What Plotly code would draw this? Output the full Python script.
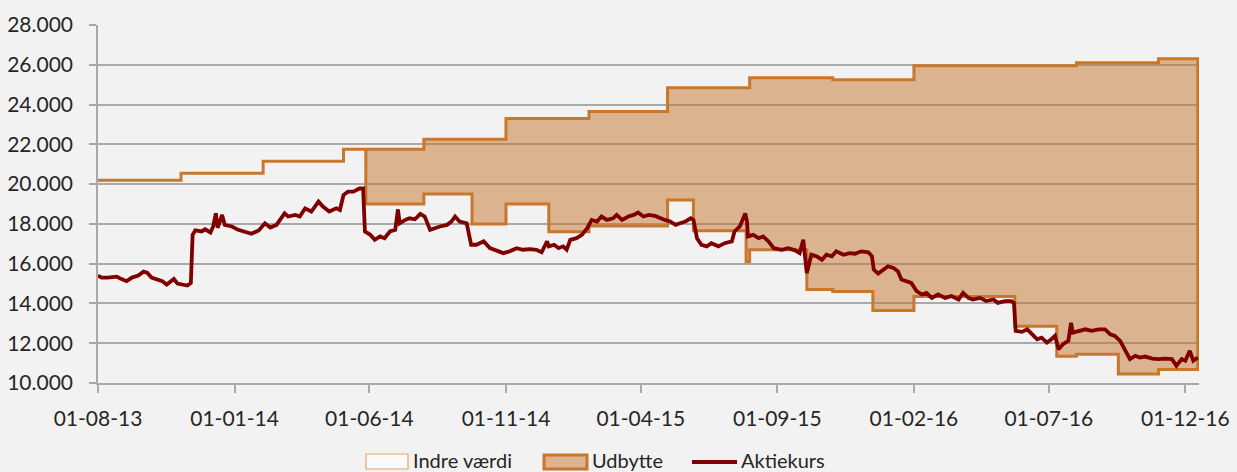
import plotly.graph_objects as go

# ---------------- data ----------------
# Step series: dates where the level changes (last entry = end of series)
step_dates = [
    "2013-08-01", "2013-11-02", "2014-02-02", "2014-05-03", "2014-05-28",
    "2014-08-01", "2014-09-24", "2014-11-01", "2014-12-19", "2015-02-02",
    "2015-05-01", "2015-05-30", "2015-07-28", "2015-08-01", "2015-10-04",
    "2015-11-02", "2015-12-17", "2016-02-01", "2016-05-24", "2016-07-10",
    "2016-08-01", "2016-09-17", "2016-11-01", "2016-12-15",
]
indre_vaerdi = [
    20200, 20550, 21150, 21750, 19000,
    19500, 18000, 19000, 17600, 17900,
    19200, 17650, 16100, 16700, 14700,
    14600, 13650, 14350, 12850, 11350,
    11450, 10450, 10680, 10680,
]
udbytte = [
    0, 0, 0, 0, 2750,
    2750, 4250, 4300, 5700, 5750,
    5650, 7200, 8750, 8650, 10650,
    10650, 11600, 11600, 13100, 14600,
    14650, 15650, 15620, 15620,
]

kurs_dates = [
    "2013-08-01", "2013-08-05", "2013-08-12", "2013-08-22", "2013-08-26", "2013-09-02",
    "2013-09-08", "2013-09-15", "2013-09-21", "2013-09-25", "2013-09-30", "2013-10-06",
    "2013-10-12", "2013-10-17", "2013-10-25", "2013-10-29", "2013-11-04", "2013-11-09",
    "2013-11-13", "2013-11-15", "2013-11-18", "2013-11-25", "2013-11-29", "2013-12-05",
    "2013-12-08", "2013-12-11", "2013-12-13", "2013-12-18", "2013-12-21", "2013-12-29",
    "2014-01-05", "2014-01-13", "2014-01-20", "2014-01-28", "2014-02-04", "2014-02-10",
    "2014-02-17", "2014-02-26", "2014-03-02", "2014-03-10", "2014-03-15", "2014-03-21",
    "2014-03-28", "2014-04-05", "2014-04-10", "2014-04-17", "2014-04-25", "2014-04-29",
    "2014-05-03", "2014-05-08", "2014-05-14", "2014-05-21", "2014-05-25", "2014-05-27",
    "2014-06-02", "2014-06-07", "2014-06-13", "2014-06-18", "2014-06-24", "2014-06-30",
    "2014-07-03", "2014-07-05", "2014-07-11", "2014-07-16", "2014-07-22", "2014-07-28",
    "2014-08-02", "2014-08-08", "2014-08-13", "2014-08-19", "2014-08-27", "2014-09-01",
    "2014-09-05", "2014-09-10", "2014-09-18", "2014-09-23", "2014-09-29", "2014-10-07",
    "2014-10-14", "2014-10-22", "2014-10-29", "2014-11-05", "2014-11-13", "2014-11-20",
    "2014-11-28", "2014-12-05", "2014-12-11", "2014-12-17", "2014-12-19", "2014-12-25",
    "2014-12-30", "2015-01-04", "2015-01-08", "2015-01-12", "2015-01-19", "2015-01-25",
    "2015-01-31", "2015-02-05", "2015-02-11", "2015-02-16", "2015-02-22", "2015-03-01",
    "2015-03-05", "2015-03-11", "2015-03-18", "2015-03-24", "2015-03-29", "2015-04-04",
    "2015-04-10", "2015-04-17", "2015-04-23", "2015-04-28", "2015-05-04", "2015-05-10",
    "2015-05-15", "2015-05-21", "2015-05-27", "2015-05-30", "2015-06-03", "2015-06-08",
    "2015-06-14", "2015-06-19", "2015-06-27", "2015-07-04", "2015-07-12", "2015-07-15",
    "2015-07-21", "2015-07-27", "2015-07-29", "2015-07-30", "2015-08-05", "2015-08-11",
    "2015-08-16", "2015-08-22", "2015-08-28", "2015-09-06", "2015-09-13", "2015-09-21",
    "2015-09-26", "2015-09-30", "2015-10-02", "2015-10-04", "2015-10-06", "2015-10-09",
    "2015-10-15", "2015-10-21", "2015-10-26", "2015-11-01", "2015-11-06", "2015-11-14",
    "2015-11-21", "2015-11-27", "2015-12-04", "2015-12-12", "2015-12-16", "2015-12-18",
    "2015-12-23", "2015-12-29", "2016-01-03", "2016-01-09", "2016-01-14", "2016-01-18",
    "2016-01-24", "2016-01-29", "2016-02-04", "2016-02-10", "2016-02-15", "2016-02-21",
    "2016-02-28", "2016-03-07", "2016-03-14", "2016-03-22", "2016-03-27", "2016-04-02",
    "2016-04-07", "2016-04-15", "2016-04-22", "2016-04-30", "2016-05-05", "2016-05-13",
    "2016-05-20", "2016-05-23", "2016-05-25", "2016-06-01", "2016-06-07", "2016-06-12",
    "2016-06-18", "2016-06-23", "2016-06-29", "2016-07-04", "2016-07-08", "2016-07-12",
    "2016-07-17", "2016-07-23", "2016-07-26", "2016-07-28", "2016-08-03", "2016-08-11",
    "2016-08-18", "2016-08-26", "2016-09-02", "2016-09-08", "2016-09-13", "2016-09-19",
    "2016-09-25", "2016-09-30", "2016-10-06", "2016-10-11", "2016-10-17", "2016-10-25",
    "2016-11-01", "2016-11-08", "2016-11-16", "2016-11-21", "2016-11-27", "2016-12-01",
    "2016-12-06", "2016-12-10", "2016-12-15",
]
aktiekurs = [
    15400, 15300, 15300, 15350, 15250, 15120,
    15300, 15400, 15600, 15550, 15300, 15230,
    15120, 14950, 15230, 15000, 14950, 14900,
    15030, 17450, 17670, 17620, 17730, 17570,
    17870, 18530, 17800, 18450, 17950, 17870,
    17700, 17570, 17500, 17670, 18030, 17820,
    17950, 18530, 18370, 18450, 18370, 18780,
    18620, 19120, 18870, 18620, 18780, 18700,
    19450, 19620, 19620, 19780, 19780, 17620,
    17450, 17200, 17370, 17280, 17620, 17700,
    18730, 18030, 18200, 18280, 18230, 18500,
    18370, 17700, 17780, 17870, 17950, 18120,
    18370, 18120, 18030, 16950, 16950, 17120,
    16780, 16620, 16530, 16620, 16780, 16700,
    16730, 16700, 16570, 17120, 16870, 16950,
    16780, 16870, 16700, 17200, 17280, 17450,
    17780, 18200, 18120, 18370, 18200, 18280,
    18450, 18200, 18370, 18450, 18570, 18370,
    18450, 18400, 18280, 18200, 18120, 17950,
    18030, 18120, 18280, 18200, 17280, 16950,
    16870, 17030, 16870, 17030, 17120, 17620,
    17870, 18530, 18120, 17370, 17450, 17280,
    17370, 17120, 16780, 16700, 16780, 16670,
    16530, 17200, 16370, 15530, 15870, 16450,
    16370, 16200, 16450, 16370, 16620, 16450,
    16530, 16500, 16620, 16570, 16370, 15700,
    15500, 15700, 15870, 15780, 15620, 15200,
    15120, 15030, 14620, 14450, 14530, 14280,
    14450, 14280, 14370, 14200, 14530, 14280,
    14200, 14280, 14120, 14200, 14030, 14120,
    14120, 14030, 12620, 12570, 12700, 12450,
    12200, 12280, 12030, 12200, 12370, 11700,
    11950, 12120, 13030, 12530, 12620, 12700,
    12620, 12700, 12700, 12450, 12370, 12120,
    11620, 11200, 11370, 11280, 11330, 11230,
    11200, 11230, 11200, 10870, 11200, 11120,
    11620, 11120, 11280,
]

series_names = ["Indre værdi", "Udbytte", "Aktiekurs"]
x_range = ["2013-08-01", "2016-12-16 08:00"]
y_range = [10000, 28000]

# ---------------- styling ----------------
BG = "#F2F2F2"
GRID = "#A9A9A9"
ORANGE = "#C9772B"
ORANGE_LIGHT = "#E2A66C"
TAN = "rgba(196,116,44,0.5)"
DARKRED = "#800000"
TXT = "#262626"
FONT = "Lato"

W, H = 1237, 472
# plot-area edges in window pixels
P_LEFT, P_TOP, P_RIGHT, P_BOTTOM = 98, 25, 1199, 383
ML, MT = P_LEFT, P_TOP
MR, MB = W - P_RIGHT, H - P_BOTTOM


def step_path(xs, ys):
    px, py = [], []
    for i in range(len(xs) - 1):
        px += [xs[i], xs[i + 1]]
        py += [ys[i], ys[i]]
    return px, py


total = [a + b for a, b in zip(indre_vaerdi, udbytte)]
bx, by = step_path(step_dates, indre_vaerdi)
tx, ty = step_path(step_dates, total)
poly_x = tx + bx[::-1] + [tx[0]]
poly_y = ty + by[::-1] + [ty[0]]

fig = go.Figure()
fig.add_trace(go.Scatter(
    x=bx, y=by, mode="lines", name=series_names[0], showlegend=False,
    line=dict(color=ORANGE_LIGHT, width=1), hoverinfo="skip",
))
fig.add_trace(go.Scatter(
    x=poly_x, y=poly_y, mode="lines", name=series_names[1], showlegend=False,
    fill="toself", fillcolor=TAN, line=dict(color=ORANGE, width=3),
    hoverinfo="skip",
))
fig.add_trace(go.Scatter(
    x=kurs_dates, y=aktiekurs, mode="lines", name=series_names[2], showlegend=False,
    line=dict(color=DARKRED, width=3.8),
))

# ---------------- manual legend (paper coordinates from window pixels) ----------------
PW, PH = P_RIGHT - P_LEFT, P_BOTTOM - P_TOP


def px2x(p):
    return (p - P_LEFT) / PW


def px2y(p):
    return (P_BOTTOM - p) / PH


LEG_Y = 460  # vertical centre of the legend row, window pixels
shapes = [
    dict(type="rect", xref="paper", yref="paper",
         x0=px2x(366), x1=px2x(408), y0=px2y(LEG_Y + 9), y1=px2y(LEG_Y - 6),
         fillcolor="#FAFAFA", line=dict(color=ORANGE_LIGHT, width=1.2), layer="above"),
    dict(type="rect", xref="paper", yref="paper",
         x0=px2x(544), x1=px2x(587), y0=px2y(LEG_Y + 9), y1=px2y(LEG_Y - 5),
         fillcolor=TAN, line=dict(color=ORANGE, width=3), layer="above"),
    dict(type="line", xref="paper", yref="paper",
         x0=px2x(692), x1=px2x(737), y0=px2y(LEG_Y + 2), y1=px2y(LEG_Y + 2),
         line=dict(color=DARKRED, width=3.8), layer="above"),
]
legend_text_x = [412, 591, 740]
annotations = [
    dict(text=name, xref="paper", yref="paper", x=px2x(xp), y=px2y(LEG_Y),
         xanchor="left", yanchor="middle", showarrow=False, borderpad=0,
         font=dict(family=FONT, size=20, color=TXT))
    for name, xp in zip(series_names, legend_text_x)
]

fig.update_layout(
    width=W, height=H,
    margin=dict(l=ML, r=MR, t=MT, b=MB, pad=0, autoexpand=False),
    paper_bgcolor=BG, plot_bgcolor=BG,
    separators=",.",
    font=dict(family=FONT, size=21, color=TXT),
    showlegend=False,
    shapes=shapes,
    annotations=annotations,
    xaxis=dict(
        type="date", range=x_range, tick0="2013-08-01", dtick="M5",
        tickformat="%d-%m-%y", showgrid=False, zeroline=False,
        showline=True, linecolor=GRID, linewidth=1.5, automargin=False,
        ticks="outside", ticklen=8, tickwidth=1.5, tickcolor=GRID,
        ticklabelstandoff=8,
    ),
    yaxis=dict(
        range=y_range, dtick=2000, tickformat=",.0f", automargin=False,
        showgrid=True, gridcolor=GRID, gridwidth=1.5, zeroline=False,
        showline=True, linecolor=GRID, linewidth=1.5,
        ticks="outside", ticklen=7, tickwidth=1.5, tickcolor=GRID,
        ticklabelstandoff=12,
    ),
)

# remove the page's default 8px body margin so the figure fills the window
fig.write_html(
    "out.html",
    config={"displayModeBar": False},
    post_script="document.body.style.margin='0px';"
                "document.body.style.background='#F2F2F2';"
                "document.body.style.overflow='hidden';",
)
